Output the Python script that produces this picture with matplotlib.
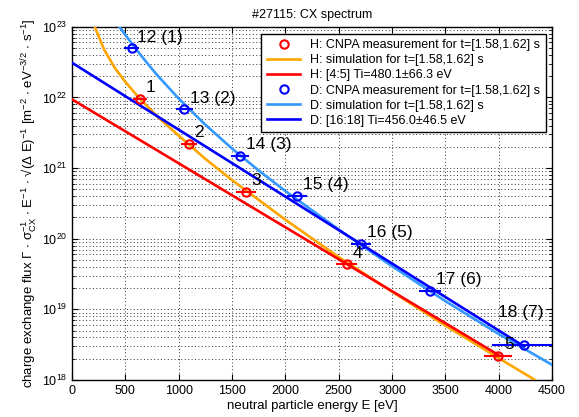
import numpy as np
import matplotlib
matplotlib.use('Agg')
import matplotlib.pyplot as plt
from matplotlib.lines import Line2D

plt.rcParams['font.family'] = ['Liberation Sans', 'DejaVu Sans']
plt.rcParams['mathtext.fontset'] = 'custom'
plt.rcParams['mathtext.rm'] = 'Liberation Sans'
plt.rcParams['mathtext.it'] = 'Liberation Sans:italic'
plt.rcParams['mathtext.default'] = 'regular'

# H measurement (CNPA channels 1..5)
h_energy = [637, 1097, 1631, 2575, 3997]
h_flux = [9.5e21, 2.19e21, 4.6e20, 4.36e19, 2.22e18]
h_err = [62, 78, 94, 97, 130]
h_labels = ['1', '2', '3', '4', '5']

# D measurement (CNPA channels 12..18)
d_energy = [560, 1053, 1575, 2109, 2709, 3356, 4237]
d_flux = [4.95e22, 6.8e21, 1.5e21, 4.03e20, 8.45e19, 1.83e19, 3.15e18]
d_err = [72, 81, 86, 94, 94, 100, 297]
d_labels = ['12 (1)', '13 (2)', '14 (3)', '15 (4)', '16 (5)', '17 (6)', '18 (7)']

# simulated spectra
h_sim_energy = [213, 300, 400, 500, 625, 800, 1000, 1250, 1500, 1750, 2000, 2500, 3000, 3500, 4000, 4341]
h_sim_flux = [1.0e23, 4.79e22, 2.63e22, 1.66e22, 1.0e22, 5.37e21, 2.88e21, 1.35e21, 6.76e20,
              3.55e20, 1.86e20, 5.50e19, 1.78e19, 5.89e18, 2.04e18, 1.0e18]
d_sim_energy = [444, 500, 600, 700, 800, 1000, 1250, 1500, 1750, 2000, 2500, 3000, 3500, 4000, 4500]
d_sim_flux = [1.0e23, 7.66e22, 4.83e22, 3.12e22, 2.06e22, 9.64e21, 4.11e21, 1.89e21, 9.25e20,
              4.74e20, 1.35e20, 4.08e19, 1.31e19, 4.48e18, 1.64e18]

# Maxwellian fits (straight lines in log scale, end points)
h_fit_energy = [0, 4000]
h_fit_flux = [9.4e21, 2.25e18]
d_fit_energy = [0, 4237]
d_fit_flux = [3.1e22, 3.0e18]

RED = '#ff0000'
ORANGE = '#ffa500'
LBLUE = '#3399ff'
BLUE = '#0000ff'

fig = plt.figure(figsize=(5.79, 4.17), dpi=100)
ax = fig.add_axes([0.1244, 0.0887, 0.829, 0.847])

lw = 1.9
ax.plot(h_sim_energy, h_sim_flux, color=ORANGE, lw=lw, zorder=3)
ax.plot(h_fit_energy, h_fit_flux, color=RED, lw=lw, zorder=3)
ax.plot(d_sim_energy, d_sim_flux, color=LBLUE, lw=lw, zorder=3)
ax.plot(d_fit_energy, d_fit_flux, color=BLUE, lw=lw, zorder=3)

ax.errorbar(h_energy, h_flux, xerr=h_err, fmt='o', color=RED, mfc='none', ms=6, mew=1.5,
            elinewidth=1.5, capsize=0, zorder=4)
ax.errorbar(d_energy, d_flux, xerr=d_err, fmt='o', color=BLUE, mfc='none', ms=6, mew=1.5,
            elinewidth=1.5, capsize=0, zorder=4)

# channel numbers next to the points
for e, f, t in zip(h_energy, h_flux, h_labels):
    ax.annotate(t, (e, f), xytext=(4.0, 8), textcoords='offset points', ha='left', va='center',
                fontsize=12.5, zorder=5)
for e, f, t in zip(d_energy[:-1], d_flux[:-1], d_labels[:-1]):
    ax.annotate(t, (e, f), xytext=(4.0, 8), textcoords='offset points', ha='left', va='center',
                fontsize=12.5, zorder=5)
ax.annotate(d_labels[-1], (d_energy[-1], d_flux[-1]), xytext=(-18.7, 23), textcoords='offset points',
            ha='left', va='center', fontsize=12.5, zorder=5)

handles = [
    Line2D([], [], ls='none', marker='o', mfc='none', mec=RED, ms=6, mew=1.5),
    Line2D([], [], color=ORANGE, lw=lw),
    Line2D([], [], color=RED, lw=lw),
    Line2D([], [], ls='none', marker='o', mfc='none', mec=BLUE, ms=6, mew=1.5),
    Line2D([], [], color=LBLUE, lw=lw),
    Line2D([], [], color=BLUE, lw=lw),
]
labels = [
    'H: CNPA measurement for t=[1.58,1.62] s',
    'H: simulation for t=[1.58,1.62] s',
    'H: [4:5] Ti=480.1\u00b166.3 eV',
    'D: CNPA measurement for t=[1.58,1.62] s',
    'D: simulation for t=[1.58,1.62] s',
    'D: [16:18] Ti=456.0\u00b146.5 eV',
]
leg = ax.legend(handles, labels, loc='upper right', bbox_to_anchor=(0.9875, 0.981), borderaxespad=0,
                fontsize=9, fancybox=False, framealpha=1, edgecolor='black', labelspacing=0.25,
                handlelength=2.7, handletextpad=0.8, borderpad=0.45)
leg.get_frame().set_linewidth(1.0)
leg.set_zorder(10)

ax.set_yscale('log')
ax.set_xlim(0, 4500)
ax.set_ylim(1e18, 1e23)
ax.set_xticks(np.arange(0, 4501, 500))
ax.tick_params(which='both', direction='in', top=True, right=True, labelsize=9)
ax.tick_params(which='major', length=4)
ax.tick_params(which='minor', length=2)
for s in ax.spines.values():
    s.set_linewidth(1.0)

ax.grid(True, which='major', color='0.2', ls=(0, (1, 2.5)), lw=0.7)
ax.grid(True, which='minor', axis='y', color='0.2', ls=(0, (1, 2.5)), lw=0.7)
ax.set_axisbelow(True)

ax.set_title('#27115: CX spectrum', fontsize=9, pad=6)
ax.set_xlabel('neutral particle energy E [eV]', fontsize=9.5, labelpad=2)
ax.set_ylabel('charge exchange flux \u0393 $\\cdot$ $\\sigma_{CX}^{-1}$ $\\cdot$ E$^{-1}$ $\\cdot$ '
              '\u221a(\u0394 E)$^{-1}$ [m$^{-2}$ $\\cdot$ eV$^{-3/2}$ $\\cdot$ s$^{-1}$]',
              fontsize=9.5, labelpad=1)

fig.savefig('out.png', dpi=100)
